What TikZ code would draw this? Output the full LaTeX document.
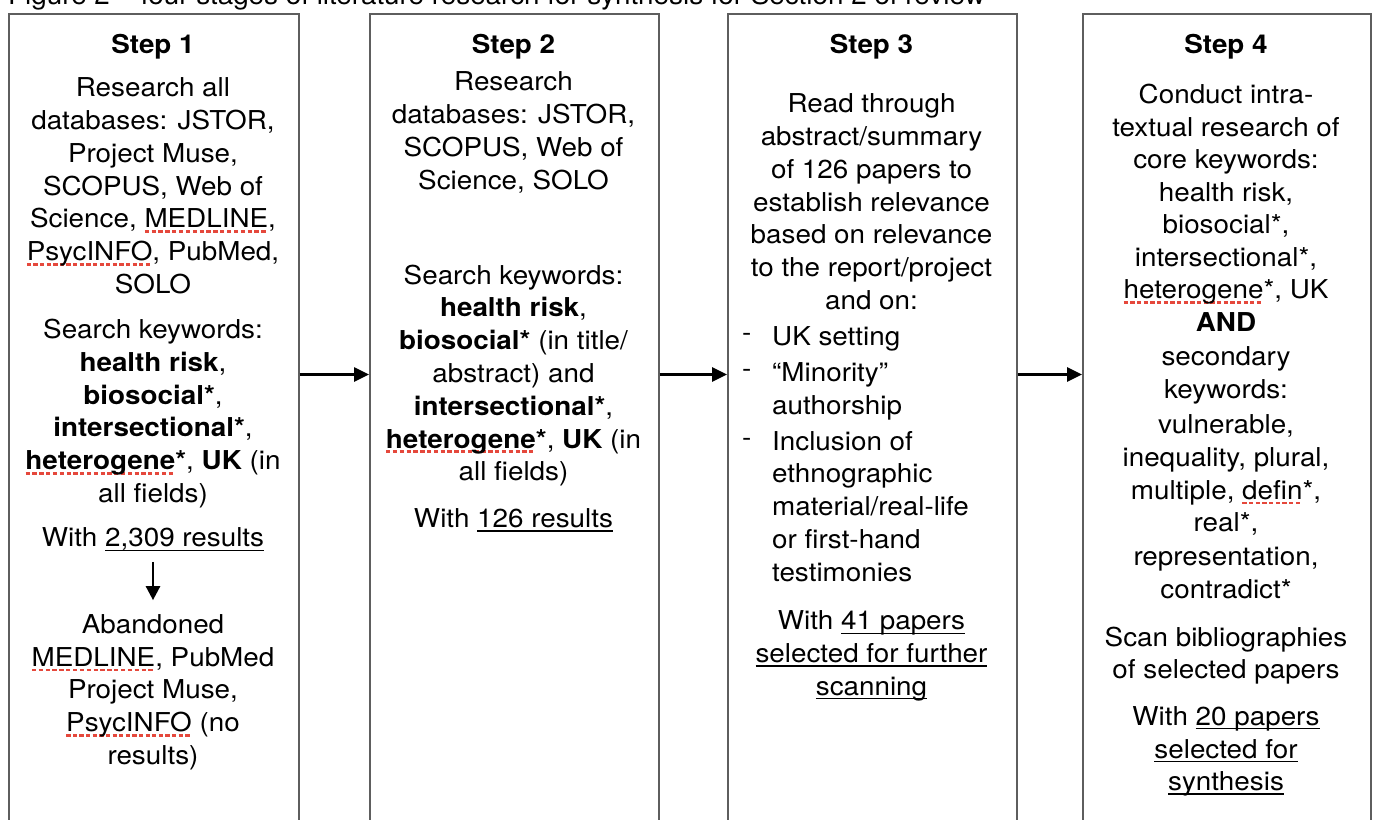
\documentclass[tikz,border=0pt]{standalone}
\usepackage{fontspec}
\setmainfont{TeX Gyre Heros}[FakeStretch=1.07]
\usetikzlibrary{arrows.meta}
\definecolor{boxgray}{HTML}{5E5E5E}
\definecolor{spellred}{HTML}{E5483C}
\newcommand\spellu[1]{\setbox0=\hbox{#1}\rlap{\color{spellred}\hbox to \wd0{\xleaders\hbox to 6.6pt{\rule[-5pt]{4.3pt}{2.6pt}\hss}\hfill}}\box0\relax}
\newcommand\ulin[1]{\setbox0=\hbox{#1}\rlap{\rule[-4pt]{\wd0}{1.2pt}}\box0\relax}
\begin{document}
\begin{tikzpicture}[x=1pt,y=-1pt,
  txt/.style={font=\fontsize{26}{33}\selectfont, inner sep=0pt, anchor=base},
  stepbox/.style={draw=boxgray, line width=1.6pt, minimum width=289pt, minimum height=830pt, anchor=north west, inner sep=0pt},
  flow/.style={-{Triangle[length=15pt,width=14pt]}, line width=2.6pt},
  down/.style={-{Triangle[length=14pt,width=14pt]}, line width=2.6pt}]
\useasboundingbox (0,0) rectangle (1373,819);
\node[txt, anchor=base west] (title) at (8,5) {Figure 2 – four stages of literature research for synthesis for Section 2 of review};
\node[stepbox, minimum width=290pt] (b1) at (8,13) {};
\node[stepbox] (b2) at (369,13) {};
\node[stepbox] (b3) at (727,13) {};
\node[stepbox, minimum width=288pt] (b4) at (1082,13) {};
\coordinate (ar) at (0,374.5);
\draw[flow] (b1.east |- ar) -- (b2.west |- ar);
\draw[flow] (b2.east |- ar) -- (b3.west |- ar);
\draw[flow] (b3.east |- ar) -- (b4.west |- ar);
% box 1
\foreach \yy/\tt [count=\i] in {53/{\textbf{Step 1}}, 96.7/{Research all}, 129.5/{databases: JSTOR,}, 162.3/{Project Muse,}, 195.1/{SCOPUS, Web of}, 227.9/{Science, \spellu{MEDLINE},}, 260.7/{\spellu{PsycINFO}, PubMed,}, 293.5/{SOLO}, 338.5/{Search keywords:}, 371.3/{\textbf{health risk},}, 404.1/{\textbf{biosocial*},}, 436.9/{\textbf{intersectional*},}, 469.7/{\textbf{\spellu{heterogene}*}, \textbf{UK} (in}, 502.5/{all fields)}, 546.7/{With \ulin{2,309 results}}, 633.3/{Abandoned}, 666.1/{\spellu{MEDLINE}, PubMed}, 698.9/{Project Muse,}, 731.7/{\spellu{PsycINFO} (no}, 764.5/{results)}}
  \node[txt] (b1l\i) at (153,\yy) {\tt};
\draw[down, shorten <=11pt, shorten >=14pt] (b1l15.south) -- (b1l16.north);
% box 2
\foreach \yy/\tt [count=\i] in {53/{\textbf{Step 2}}, 90.7/{Research}, 123.5/{databases: JSTOR,}, 156.3/{SCOPUS, Web of}, 189.1/{Science, SOLO}, 284/{Search keywords:}, 316.8/{\textbf{health risk},}, 349.6/{\textbf{biosocial*} (in title/}, 382.4/{abstract) and}, 415.2/{\textbf{intersectional*},}, 448/{\textbf{\spellu{heterogene}*}, \textbf{UK} (in}, 480.8/{all fields)}, 527.5/{With \ulin{126 results}}}
  \node[txt] (b2l\i) at (513.5,\yy) {\tt};
% box 3
\foreach \yy/\tt [count=\i] in {53/{\textbf{Step 3}}, 112.7/{Read through}, 145.5/{abstract/summary}, 178.3/{of 126 papers to}, 211.1/{establish relevance}, 243.9/{based on relevance}, 276.7/{to the report/project}, 309.5/{and on:}, 629.7/{With \ulin{41 papers}}, 662.5/{\ulin{selected for further}}, 695.3/{\ulin{scanning}}}
  \node[txt] (b3l\i) at (871.5,\yy) {\tt};
\foreach \yy/\tt [count=\i] in {345/{UK setting}, 381.5/{“Minority”}, 414.5/{authorship}, 450/{Inclusion of}, 482.8/{ethnographic}, 515.6/{material/real-life}, 548.4/{or first-hand}, 581.2/{testimonies}}
  \node[txt, anchor=base west] (b3i\i) at (772,\yy) {\tt};
\foreach \yy [count=\i] in {345, 381.5, 450}
  \node[txt, anchor=base west] (b3d\i) at (742,\yy) {\raisebox{4pt}{-}};
% box 4
\foreach \yy/\tt [count=\i] in {53/{\textbf{Step 4}}, 103.5/{Conduct intra-}, 136.5/{textual research of}, 168.8/{core keywords:}, 201.7/{health risk,}, 233.8/{biosocial*,}, 266.7/{intersectional*,}, 298.5/{\spellu{heterogene}*, UK}, 331.7/{\textbf{AND}}, 365/{secondary}, 398.3/{keywords:}, 433.3/{vulnerable,}, 466.7/{inequality, plural,}, 499.3/{multiple, \spellu{defin}*,}, 531.7/{real*,}, 565/{representation,}, 598.3/{contradict*}, 646.7/{Scan bibliographies}, 678.8/{of selected papers}, 725/{With \ulin{20 papers}}, 758/{\ulin{selected for}}, 790.5/{\ulin{synthesis}}}
  \node[txt] (b4l\i) at (1226,\yy) {\tt};
\end{tikzpicture}
\end{document}
